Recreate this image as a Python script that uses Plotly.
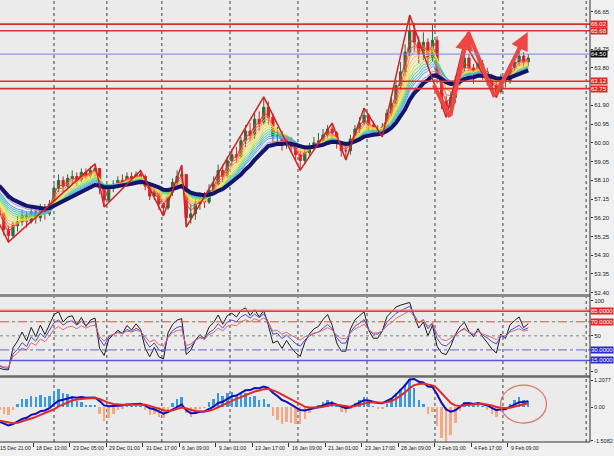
import numpy as np
import pandas as pd
import plotly.graph_objects as go

# ---------------- data (H8-like candles, x in H4-bar units) ----------------
first_open = 56.7
closes = [56.4, 55.6, 55.3, 55.8, 56.0, 56.3, 56.0, 56.5, 56.2, 56.7, 56.4, 56.9,
          57.7, 58.1, 57.8, 58.2, 58.3, 58.1, 58.5, 58.3, 58.6, 58.7, 57.7, 57.1,
          57.7, 57.9, 58.1, 58.0, 58.3, 58.2, 58.4, 58.3, 57.8, 57.3, 57.5, 56.9,
          56.7, 57.5, 58.0, 58.3, 58.4, 56.2, 56.4, 56.9, 57.2, 57.0, 57.6, 57.9,
          58.6, 58.3, 59.1, 59.4, 59.3, 60.1, 60.6, 60.4, 61.2, 61.0, 61.8, 61.3,
          60.3, 60.4, 59.9, 60.2, 59.8, 59.4, 59.1, 59.5, 59.8, 60.0, 60.1, 60.4,
          60.7, 60.5, 60.0, 59.6, 59.6, 60.2, 60.7, 61.0, 61.4, 60.9, 60.6, 60.6,
          60.8, 61.5, 62.0, 62.9, 63.6, 64.6, 65.7, 65.1, 64.5, 65.1, 64.3, 65.2,
          63.3, 62.1, 61.8, 62.3, 63.1, 63.8, 64.3, 63.8, 63.5, 64.0, 63.6, 63.3,
          62.9, 62.6, 63.3, 63.1, 63.8, 64.1, 64.4, 64.1, 64.3]
highs = [56.9, 56.5, 55.8, 56.0, 56.3, 56.6, 56.5, 56.8, 56.7, 56.9, 56.9, 57.1,
         57.9, 58.4, 58.3, 58.4, 58.6, 58.5, 58.7, 58.7, 58.8, 58.93, 58.6, 57.8,
         57.9, 58.1, 58.3, 58.4, 58.5, 58.5, 58.55, 58.6, 58.4, 57.9, 57.7, 57.5,
         57.0, 57.7, 58.2, 58.6, 58.87, 58.4, 56.9, 57.2, 57.5, 57.5, 57.9, 58.3,
         58.9, 58.9, 59.3, 59.7, 59.8, 60.3, 60.9, 61.0, 61.5, 61.6, 62.33, 62.1,
         61.5, 60.8, 60.6, 60.4, 60.3, 60.0, 59.6, 59.8, 60.0, 60.3, 60.5, 60.7,
         60.9, 61.0, 60.6, 60.1, 59.9, 60.4, 60.9, 61.3, 61.76, 61.5, 61.1, 60.9,
         61.0, 61.7, 62.4, 63.2, 64.1, 65.0, 66.48, 66.1, 65.4, 65.6, 65.3, 66.0,
         65.4, 63.5, 62.4, 62.6, 63.4, 64.2, 65.1, 64.5, 64.0, 64.3, 64.2, 63.8,
         63.5, 63.1, 63.5, 63.6, 64.0, 64.4, 64.9, 64.6, 64.5]
lows = [56.0, 55.3, 54.97, 55.2, 55.5, 55.8, 55.7, 55.9, 55.9, 56.0, 56.1, 56.3,
        56.8, 57.5, 57.5, 57.7, 57.9, 57.8, 58.0, 58.1, 58.2, 58.3, 57.4, 56.75,
        57.0, 57.5, 57.7, 57.8, 57.9, 57.9, 58.0, 58.0, 57.6, 57.1, 57.1, 56.6,
        56.3, 56.6, 57.3, 57.8, 58.0, 55.73, 55.9, 56.1, 56.6, 56.7, 56.9, 57.4,
        57.8, 58.0, 58.2, 58.8, 59.0, 59.2, 59.8, 60.1, 60.2, 60.6, 60.9, 60.9,
        60.0, 59.9, 59.6, 59.7, 59.5, 59.1, 58.62, 58.9, 59.3, 59.6, 59.8, 59.9,
        60.2, 60.2, 59.7, 59.3, 59.13, 59.4, 60.0, 60.5, 60.9, 60.6, 60.3, 60.35,
        60.3, 60.6, 61.3, 61.8, 62.7, 63.4, 64.4, 64.6, 64.0, 64.2, 63.9, 64.1,
        63.0, 61.7, 61.3, 61.5, 62.0, 62.9, 63.6, 63.4, 63.0, 63.3, 63.2, 62.9,
        62.6, 62.3, 62.5, 62.8, 63.0, 63.6, 63.9, 63.8, 63.9]
warmup_closes = [60.2, 60.0, 59.8, 59.9, 59.5, 59.3, 59.4, 59.0, 58.8, 58.9,
                 58.5, 58.2, 58.3, 57.9, 57.6, 57.7, 57.3, 57.0, 56.9, 56.6]

date_labels = ["15 Dec 21:00", "18 Dec 13:00", "23 Dec 05:00", "29 Dec 01:00",
               "31 Dec 17:00", "6 Jan 09:00", "9 Jan 01:00", "13 Jan 17:00",
               "16 Jan 09:00", "21 Jan 01:00", "23 Jan 17:00", "28 Jan 09:00",
               "2 Feb 01:00", "4 Feb 17:00", "9 Feb 09:00"]
label_step = 16
week_separators = [25.0, 48.2, 72.3, 102.2, 132.0, 162.3, 192.1, 221.9, 258.4]

ribbon_periods = [2, 3, 4, 5, 6, 7, 8, 9, 10, 11, 12, 14]
ribbon_colors = ["#ff3030", "#ff6a3d", "#ff9a40", "#ffc845", "#f2e64a", "#c8e650",
                 "#8fdc5a", "#55d08a", "#40c8c0", "#4ab4ee", "#6a9cf0", "#9a8ef0"]
slow_period = 16
rsi_periods = [4, 7, 11]
rsi_colors = ["#1e1e1e", "#4a4ad0", "#e06a6a"]
macd_fast, macd_slow, macd_signal = 6, 13, 5
hist_scale = 3.2

zigzag_idx = [0, 2, 21, 23, 31, 36, 40, 41, 58, 66, 73, 76, 80, 84, 90, 98, 102, 109, 114]
zigzag_price = [55.9, 54.97, 58.93, 56.75, 58.6, 56.3, 58.87, 55.73, 62.33, 58.62,
                61.0, 59.13, 61.76, 60.3, 66.48, 61.3, 65.1, 62.3, 64.9]

arrow_bars = [191.6, 198.7, 206.6, 218.3, 232.8]
arrow_prices = [62.93, 61.31, 65.62, 62.32, 65.62]

hlines_red = [66.02, 65.68, 63.12, 62.75]
hline_black = 64.50
price_ticks = [66.65, 64.75, 63.80, 61.90, 60.95, 60.00, 59.05, 58.10, 57.15,
               56.20, 55.25, 54.30, 53.35, 52.40]
rsi_levels = [85, 70, 30, 15]
macd_ticks = [1.2077, 0.0, -1.5082]
macd_ticktext = ["1.2077", "0.00", "-1.5082"]

# ---------------- derived ----------------
X0, X1 = 1.316, 260.09
n = len(closes)
xb = [2 * k + 1 for k in range(n)]
opens = [first_open] + closes[:-1]
allc = pd.Series(warmup_closes + closes)
w = len(warmup_closes)

def ema(p):
    return allc.ewm(span=p, adjust=False).mean().iloc[w:].tolist()

def rsi(p):
    d = allc.diff().fillna(0)
    g = d.clip(lower=0).ewm(alpha=1 / p, adjust=False).mean()
    l = (-d.clip(upper=0)).ewm(alpha=1 / p, adjust=False).mean()
    r = 100 - 100 / (1 + g / l.replace(0, 1e-9))
    return r.iloc[w:].tolist()

macd_full = allc.ewm(span=macd_fast, adjust=False).mean() - allc.ewm(span=macd_slow, adjust=False).mean()
sig_full = macd_full.ewm(span=macd_signal, adjust=False).mean()
macd = macd_full.iloc[w:].tolist()
sig = sig_full.iloc[w:].tolist()
hist = [(a - b) * hist_scale for a, b in zip(macd, sig)]

fig = go.Figure()
FONT = "Liberation Sans, Arial, sans-serif"

for p, c in zip(ribbon_periods, ribbon_colors):
    fig.add_trace(go.Scatter(x=xb, y=ema(p), mode="lines", line=dict(color=c, width=1),
                             yaxis="y", hoverinfo="skip", showlegend=False))
fig.add_trace(go.Scatter(x=xb, y=ema(slow_period), mode="lines",
                         line=dict(color="#14146a", width=4), showlegend=False))
fig.add_trace(go.Candlestick(x=xb, open=opens, high=highs, low=lows, close=closes,
                             increasing=dict(line=dict(color="#2f6a3a", width=1), fillcolor="#2f6a3a"),
                             decreasing=dict(line=dict(color="#d02424", width=1), fillcolor="#d02424"),
                             whiskerwidth=0, showlegend=False, yaxis="y"))
fig.add_trace(go.Scatter(x=[xb[i] for i in zigzag_idx], y=zigzag_price, mode="lines",
                         line=dict(color="#d42020", width=1.5), showlegend=False))

# arrows (shafts)
fig.add_trace(go.Scatter(x=arrow_bars[0:2], y=arrow_prices[0:2], mode="lines",
                         line=dict(color="#f04545", width=4), showlegend=False))
fig.add_trace(go.Scatter(x=arrow_bars[2:4], y=arrow_prices[2:4], mode="lines",
                         line=dict(color="#f04545", width=4), showlegend=False))

# RSI
for p, c in zip(rsi_periods, rsi_colors):
    fig.add_trace(go.Scatter(x=xb, y=rsi(p), mode="lines", line=dict(color=c, width=1),
                             yaxis="y2", showlegend=False))

# MACD
fig.add_trace(go.Bar(x=xb, y=hist, yaxis="y3", width=1.1,
                     marker=dict(color=["#3a98e8" if v >= 0 else "#f7a883" for v in hist], line_width=0),
                     showlegend=False))
fig.add_trace(go.Scatter(x=xb, y=macd, yaxis="y3", mode="lines", line=dict(color="#1010b8", width=2),
                         showlegend=False))
fig.add_trace(go.Scatter(x=xb, y=sig, yaxis="y3", mode="lines", line=dict(color="#e02a2a", width=2),
                         showlegend=False))

shapes = []
for v in hlines_red:
    shapes.append(dict(type="line", xref="paper", x0=0, x1=1, yref="y", y0=v, y1=v,
                       line=dict(color="#d83030", width=1.6)))
shapes.append(dict(type="line", xref="paper", x0=0, x1=1, yref="y", y0=hline_black, y1=hline_black,
                   line=dict(color="#7a86e0", width=1)))
rsi_styles = {85: ("#e03a3a", "solid", 1.5), 70: ("#e0502a", "dashdot", 1),
              30: ("#6464c8", "dashdot", 1), 15: ("#5a5ad8", "solid", 1.5)}
shapes.append(dict(type="line", xref="paper", x0=0, x1=1, yref="y2", y0=86, y1=86,
                   line=dict(color="rgba(255,150,150,0.6)", width=3)))
for v in rsi_levels:
    c, d, wd = rsi_styles[v]
    shapes.append(dict(type="line", xref="paper", x0=0, x1=1, yref="y2", y0=v, y1=v,
                       line=dict(color=c, width=wd, dash=d)))
shapes.append(dict(type="line", xref="paper", x0=0, x1=1, yref="y2", y0=50, y1=50,
                   line=dict(color="#808080", width=1, dash="dot")))
for s in week_separators:
    shapes.append(dict(type="line", xref="x", x0=s, x1=s, yref="paper", y0=0, y1=1,
                       line=dict(color="#404040", width=1, dash="dot"), layer="below"))
# panel separators
for py, wd, col in [(295.5, 3, "#8a8a8a"), (376.5, 2.5, "#6a6a6a"), (442, 1, "#303030")]:
    yy = 1 - py / 442
    shapes.append(dict(type="line", xref="paper", x0=0, x1=1, yref="paper", y0=yy, y1=yy,
                       line=dict(color=col, width=wd)))
shapes.append(dict(type="line", xref="paper", x0=1, x1=1, yref="paper", y0=0, y1=1,
                   line=dict(color="#303030", width=1)))
shapes.append(dict(type="circle", xref="x", yref="y3", x0=220.9, x1=241.0, y0=-0.72, y1=0.98,
                   line=dict(color="#e07060", width=1.2)))

ann = []
for (a, b) in [(1, 2), (3, 4)]:
    ann.append(dict(x=arrow_bars[b], y=arrow_prices[b], ax=arrow_bars[a], ay=arrow_prices[a],
                    xref="x", yref="y", axref="x", ayref="y", showarrow=True, text="",
                    arrowhead=2, arrowsize=0.9, arrowwidth=4, arrowcolor="#f04545"))
for i, t in enumerate(date_labels):
    ann.append(dict(x=(i * label_step - X0) / (X1 - X0), y=0, xref="paper", yref="paper", text=t,
                    showarrow=False, xanchor="left", yanchor="top", xshift=1, yshift=-1,
                    font=dict(size=5.2, color="#222", family=FONT)))
def tag(v, yref, txt, bg):
    ann.append(dict(x=1, y=v, xref="paper", yref=yref, text=txt, showarrow=False,
                    xanchor="left", yanchor="middle", bgcolor=bg, borderpad=0,
                    font=dict(size=6, color="white", family=FONT)))
for v in hlines_red:
    tag(v, "y", f"{v:.2f}", "#e02828")
tag(hline_black, "y", f"{hline_black:.2f}", "#111111")
for v in rsi_levels:
    tag(v, "y2", f"{v:.4f}", "#e02828" if v > 50 else "#2a2ad0")

axis_font = dict(size=6, color="#222", family=FONT)
fig.update_layout(
    width=614, height=456, margin=dict(l=0, r=24, t=0, b=14, autoexpand=False),
    paper_bgcolor="#f0f0f0", plot_bgcolor="#ebebeb",
    showlegend=False, bargap=0,
    shapes=shapes, annotations=ann,
    xaxis=dict(range=[X0, X1], anchor="y3", showgrid=False, zeroline=False, automargin=False,
               tickvals=[i * label_step for i in range(len(date_labels))], ticks="outside",
               ticklen=4, tickcolor="#333", showticklabels=False, rangeslider=dict(visible=False),
               showline=False),
    yaxis=dict(domain=[1 - 293 / 442, 1], range=[52.385, 67.243], side="right", automargin=False,
               tickvals=price_ticks, ticktext=[f"{v:.2f}" for v in price_ticks],
               ticks="outside", ticklen=2, tickcolor="#333", tickfont=axis_font,
               showgrid=False, zeroline=False),
    yaxis2=dict(domain=[1 - 375 / 442, 1 - 298 / 442], range=[-5.69, 103.84], side="right",
                anchor="x", automargin=False, tickvals=[100, 50, 0], ticks="outside", ticklen=2,
                tickcolor="#333", tickfont=axis_font, showgrid=False, zeroline=False),
    yaxis3=dict(domain=[0, 1 - 378 / 442], range=[-1.565, 1.297], side="right", anchor="x",
                automargin=False, tickvals=macd_ticks, ticktext=macd_ticktext, ticks="outside",
                ticklen=2, tickcolor="#333", tickfont=dict(size=5.5, color="#222", family=FONT),
                showgrid=False, zeroline=False),
)
fig.write_html("out.html", config={"displayModeBar": False},
               post_script="document.body.style.margin='0';document.body.style.overflow='hidden';")
